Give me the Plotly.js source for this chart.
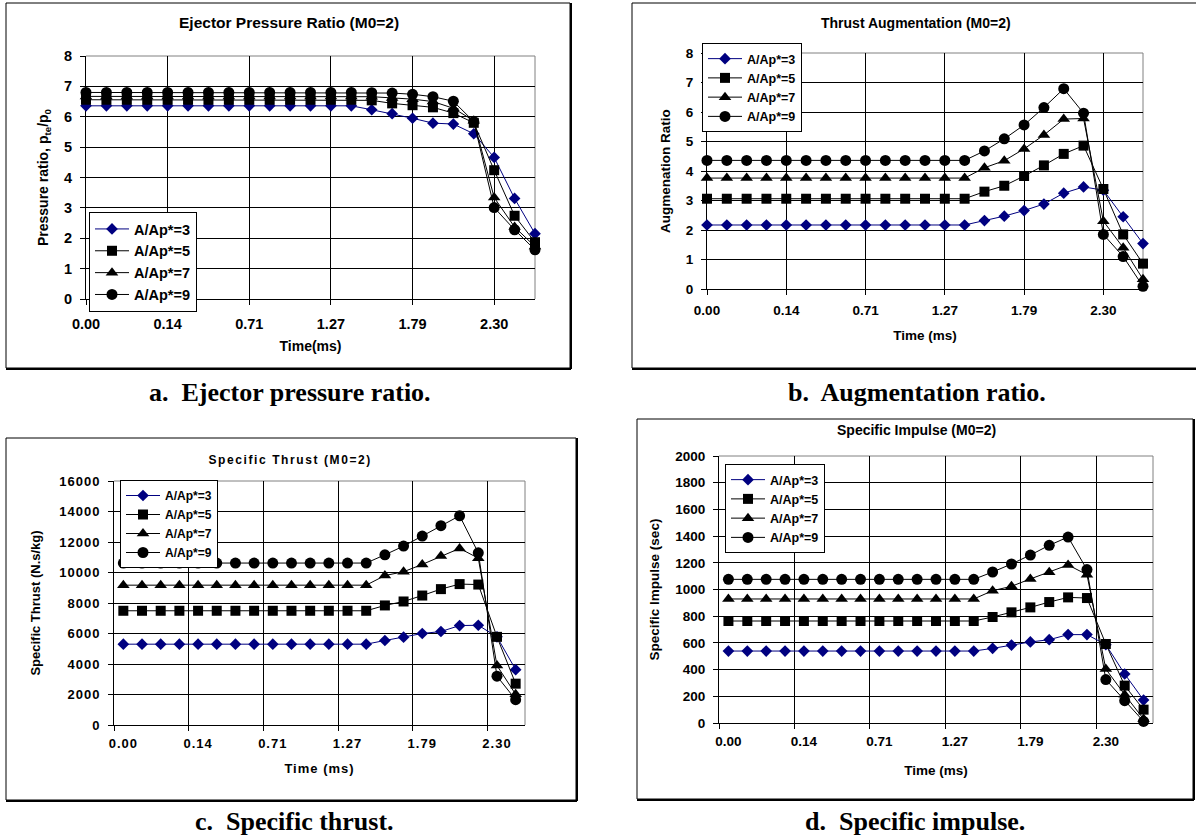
<!DOCTYPE html>
<html>
<head>
<meta charset="utf-8">
<script src="https://cdn.plot.ly/plotly-3.0.1.min.js"></script>
<style>
html, body { margin: 0; padding: 0; background: #ffffff; }
#chart { width: 1196px; height: 839px; }
</style>
</head>
<body>
<div id="chart"></div>
<script>
// ---------------- DATA ----------------
const step = [0, 1, 2, 3, 4, 5, 6, 7, 8, 9, 10, 11, 12, 13, 14, 15, 16, 17, 18, 19, 20, 21, 22];
const tickPos = [0, 4, 8, 12, 16, 20];
const tickText = ['0.00', '0.14', '0.71', '1.27', '1.79', '2.30'];
const seriesNames = ['A/Ap*=3', 'A/Ap*=5', 'A/Ap*=7', 'A/Ap*=9'];

// a. Ejector pressure ratio
const pressure3 = [6.36, 6.36, 6.36, 6.36, 6.36, 6.36, 6.36, 6.36, 6.36, 6.36, 6.36, 6.36, 6.36, 6.36, 6.23, 6.10, 5.95, 5.79, 5.76, 5.44, 4.66, 3.31, 2.15];
const pressure5 = [6.56, 6.56, 6.56, 6.56, 6.56, 6.56, 6.56, 6.56, 6.56, 6.56, 6.56, 6.56, 6.56, 6.56, 6.54, 6.44, 6.38, 6.31, 6.12, 5.80, 4.24, 2.74, 1.87];
const pressure7 = [6.67, 6.67, 6.67, 6.67, 6.67, 6.67, 6.67, 6.67, 6.67, 6.67, 6.67, 6.67, 6.67, 6.67, 6.66, 6.62, 6.58, 6.50, 6.28, 5.87, 3.34, 2.37, 1.73];
const pressure9 = [6.80, 6.80, 6.80, 6.80, 6.80, 6.80, 6.80, 6.80, 6.80, 6.80, 6.80, 6.80, 6.80, 6.80, 6.79, 6.78, 6.74, 6.66, 6.51, 5.84, 3.01, 2.28, 1.62];

// b. Augmentation ratio
const augment3 = [2.17, 2.17, 2.17, 2.17, 2.17, 2.17, 2.17, 2.17, 2.17, 2.17, 2.17, 2.17, 2.17, 2.17, 2.32, 2.47, 2.66, 2.88, 3.25, 3.46, 3.35, 2.45, 1.54];
const augment5 = [3.06, 3.06, 3.06, 3.06, 3.06, 3.06, 3.06, 3.06, 3.06, 3.06, 3.06, 3.06, 3.06, 3.06, 3.30, 3.50, 3.83, 4.19, 4.58, 4.86, 3.39, 1.85, 0.86];
const augment7 = [3.76, 3.76, 3.76, 3.76, 3.76, 3.76, 3.76, 3.76, 3.76, 3.76, 3.76, 3.76, 3.76, 3.76, 4.11, 4.35, 4.75, 5.22, 5.76, 5.78, 2.30, 1.40, 0.33];
const augment9 = [4.36, 4.36, 4.36, 4.36, 4.36, 4.36, 4.36, 4.36, 4.36, 4.36, 4.36, 4.36, 4.36, 4.36, 4.68, 5.09, 5.56, 6.15, 6.79, 5.96, 1.85, 1.10, 0.09];

// c. Specific thrust (22 points)
const thrust3 = [5300, 5300, 5300, 5300, 5300, 5300, 5300, 5300, 5300, 5300, 5300, 5300, 5300, 5300, 5540, 5760, 6000, 6130, 6520, 6540, 5780, 3630];
const thrust5 = [7490, 7490, 7490, 7490, 7490, 7490, 7490, 7490, 7490, 7490, 7490, 7490, 7490, 7490, 7840, 8100, 8490, 8910, 9240, 9210, 5780, 2710];
const thrust7 = [9170, 9170, 9170, 9170, 9170, 9170, 9170, 9170, 9170, 9170, 9170, 9170, 9170, 9170, 9800, 10050, 10530, 11080, 11580, 10940, 3900, 2010];
const thrust9 = [10620, 10620, 10620, 10620, 10620, 10620, 10620, 10620, 10620, 10620, 10620, 10620, 10620, 10620, 11160, 11730, 12390, 13070, 13720, 11290, 3200, 1660];

// d. Specific impulse
const impulse3 = [539, 539, 539, 539, 539, 539, 539, 539, 539, 539, 539, 539, 539, 539, 559, 584, 607, 624, 662, 662, 587, 367, 172];
const impulse5 = [764, 764, 764, 764, 764, 764, 764, 764, 764, 764, 764, 764, 764, 764, 794, 829, 866, 906, 941, 936, 592, 280, 100];
const impulse7 = [929, 929, 929, 929, 929, 929, 929, 929, 929, 929, 929, 929, 929, 929, 991, 1024, 1079, 1129, 1184, 1111, 404, 212, 30];
const impulse9 = [1076, 1076, 1076, 1076, 1076, 1076, 1076, 1076, 1076, 1076, 1076, 1076, 1076, 1076, 1131, 1191, 1258, 1331, 1393, 1149, 325, 167, 12];

// ---------------- STYLE / LAYOUT ----------------
const W = 1196, H = 839;
const SANS = 'Liberation Sans, Arial, sans-serif';
const SERIF = 'Liberation Serif, Times New Roman, serif';
const markerStyles = [
  { symbol: 'diamond', color: '#000080', size: 9 },
  { symbol: 'square', color: '#000000', size: 10 },
  { symbol: 'triangle-up', color: '#000000', size: 11 },
  { symbol: 'circle', color: '#000000', size: 11 }
];

const panels = [
  { xa: 'x', ya: 'y', leg: 'legend', box: [86, 56, 535, 299], xRange: [0, 22], yRange: [0, 8], dtick: 1,
    series: [pressure3, pressure5, pressure7, pressure9], between: false,
    title: 'Ejector Pressure Ratio (M0=2)', titlePos: [289, 23], titleSize: 15.5,
    xTitle: 'Time(ms)', yTitle: 'Pressure ratio, p<sub>te</sub>/p<sub>0</sub>',
    legPos: [89, 212], fs: 14.5, titleFs: 14, legFs: 14.5, legGap: 1, xStand: 7, xTitleStand: 9, yTitleStand: 12,
    frame: [6, 3, 570, 368], caption: 'a.\u00a0 Ejector pressure ratio.', capPos: [290, 392] },
  { xa: 'x2', ya: 'y2', leg: 'legend2', box: [707, 53, 1143, 289], xRange: [0, 22], yRange: [0, 8], dtick: 1,
    series: [augment3, augment5, augment7, augment9], between: false,
    title: 'Thrust Augmentation (M0=2)', titlePos: [916, 23], titleSize: 14,
    xTitle: 'Time (ms)', yTitle: 'Augmenation Ratio',
    legPos: [702, 43], fs: 13.5, titleFs: 13.5, legFs: 12.5, legGap: 3, xStand: 4, xTitleStand: 13, yTitleStand: 12,
    frame: [632, 3, 1200, 368], caption: 'b.\u00a0 Augmentation ratio.', capPos: [917, 392] },
  { xa: 'x3', ya: 'y3', leg: 'legend3', box: [114, 481, 525, 725], xRange: [-0.5, 21.5], yRange: [0, 16000], dtick: 2000,
    series: [thrust3, thrust5, thrust7, thrust9], between: true,
    title: 'Specific Thrust (M0=2)', titlePos: [290, 460], titleSize: 12,
    xTitle: 'Time (ms)', yTitle: 'Specific Thrust (N.s/kg)',
    legPos: [120, 480], fs: 13, titleFs: 13, legFs: 12, legGap: 0, xStand: 6, xTitleStand: 14, yTitleStand: 20,
    frame: [6, 438, 576, 800], caption: 'c.\u00a0 Specific thrust.', capPos: [294, 821] },
  { xa: 'x4', ya: 'y4', leg: 'legend4', box: [719, 456, 1153, 723], xRange: [-0.5, 22.5], yRange: [0, 2000], dtick: 200,
    series: [impulse3, impulse5, impulse7, impulse9], between: true,
    title: 'Specific Impulse (M0=2)', titlePos: [916, 430], titleSize: 14,
    xTitle: 'Time (ms)', yTitle: 'Specific Impulse (sec)',
    legPos: [725, 464], fs: 13.5, titleFs: 13.5, legFs: 12.5, legGap: 3, xStand: 6, xTitleStand: 17, yTitleStand: 12,
    frame: [637, 419, 1193, 799], caption: 'd.\u00a0 Specific impulse.', capPos: [915, 821] }
];

const px = v => v / W;
const py = v => 1 - v / H;

const traces = [];
const layout = {
  width: W, height: H,
  margin: { l: 0, r: 0, t: 0, b: 0 },
  paper_bgcolor: '#ffffff',
  plot_bgcolor: 'rgba(0,0,0,0)',
  font: { family: SANS, color: '#000000' },
  shapes: [],
  annotations: []
};

panels.forEach((p, pi) => {
  const n = p.series[0].length;
  const xs = step.slice(0, n);
  p.series.forEach((ys, si) => {
    const ms = markerStyles[si];
    traces.push({
      type: 'scatter', mode: 'lines+markers',
      x: xs, y: ys,
      xaxis: p.xa, yaxis: p.ya, legend: p.leg,
      legendgroup: p.leg + '_' + si,
      name: seriesNames[si],
      line: { color: ms.color, width: 1 },
      marker: { symbol: ms.symbol, color: ms.color, size: ms.size, line: { width: 0 } },
      cliponaxis: false
    });
  });

  const xKey = 'xaxis' + (pi === 0 ? '' : (pi + 1));
  const yKey = 'yaxis' + (pi === 0 ? '' : (pi + 1));
  const [bx0, by0, bx1, by1] = p.box;
  const tickFont = { family: SANS, size: p.fs, color: '#000', weight: 'bold' };
  const titleFont = { family: SANS, size: p.titleFs, color: '#000', weight: 'bold' };
  const xa = {
    domain: [px(bx0), px(bx1)], anchor: p.ya,
    range: p.xRange, tickmode: 'array', tickvals: tickPos, ticktext: tickText,
    showline: true, linecolor: '#000', linewidth: 1, zeroline: false,
    tickfont: tickFont, ticklabelstandoff: p.xStand,
    title: { text: p.xTitle, font: titleFont, standoff: p.xTitleStand },
    layer: 'below traces', fixedrange: true
  };
  if (p.between) {
    const boundaries = tickPos.map(t => t - 0.5);
    Object.assign(xa, {
      showgrid: false, ticks: '',
      minor: { tickmode: 'array', tickvals: boundaries, showgrid: true, gridcolor: '#000', gridwidth: 1,
               ticks: 'outside', ticklen: 5, tickcolor: '#000', tickwidth: 1 }
    });
  } else {
    Object.assign(xa, { showgrid: true, gridcolor: '#000', gridwidth: 1, ticks: 'outside', ticklen: 5, tickcolor: '#000' });
  }
  layout[xKey] = xa;
  layout[yKey] = {
    domain: [py(by1), py(by0)], anchor: p.xa,
    range: p.yRange, tickmode: 'linear', tick0: 0, dtick: p.dtick, tickformat: 'd',
    showgrid: true, gridcolor: '#000', gridwidth: 1,
    showline: true, linecolor: '#000', linewidth: 1, zeroline: false,
    ticks: 'outside', ticklen: 5, tickcolor: '#000',
    tickfont: tickFont, ticklabelstandoff: 5,
    title: { text: p.yTitle, font: titleFont, standoff: p.yTitleStand },
    layer: 'below traces', fixedrange: true
  };

  // legend
  layout[p.leg] = {
    x: px(p.legPos[0]), y: py(p.legPos[1]), xanchor: 'left', yanchor: 'top',
    xref: 'paper', yref: 'paper',
    bgcolor: '#ffffff', bordercolor: '#000000', borderwidth: 1,
    font: { family: SANS, size: p.legFs, color: '#000', weight: 'bold' },
    tracegroupgap: p.legGap, itemwidth: 34, traceorder: 'normal'
  };

  // gray plot-area border (top & right)
  const xd = p.xa + ' domain', yd = p.ya + ' domain';
  layout.shapes.push({ type: 'line', xref: xd, yref: yd, x0: 0, x1: 1, y0: 1, y1: 1, line: { color: '#808080', width: 1 }, layer: 'below' });
  layout.shapes.push({ type: 'line', xref: xd, yref: yd, x0: 1, x1: 1, y0: 0, y1: 1, line: { color: '#808080', width: 1 }, layer: 'below' });

  // outer frame with shadow edge
  const [fx0, fy0, fx1, fy1] = p.frame;
  layout.shapes.push({ type: 'rect', xref: 'paper', yref: 'paper', x0: px(fx0), x1: px(fx1), y0: py(fy1), y1: py(fy0), line: { color: '#000', width: 1 }, layer: 'above' });
  layout.shapes.push({ type: 'line', xref: 'paper', yref: 'paper', x0: px(fx0), x1: px(fx1 + 1), y0: py(fy1 + 1), y1: py(fy1 + 1), line: { color: '#000', width: 2 }, layer: 'above' });
  layout.shapes.push({ type: 'line', xref: 'paper', yref: 'paper', x0: px(fx1 + 1), x1: px(fx1 + 1), y0: py(fy1 + 1), y1: py(fy0), line: { color: '#000', width: 2 }, layer: 'above' });

  // chart title
  layout.annotations.push({
    text: p.title, xref: 'paper', yref: 'paper', x: px(p.titlePos[0]), y: py(p.titlePos[1]),
    xanchor: 'center', yanchor: 'middle', showarrow: false,
    font: { family: SANS, size: p.titleSize, color: '#000', weight: 'bold' }
  });
  // caption
  layout.annotations.push({
    text: p.caption, xref: 'paper', yref: 'paper', x: px(p.capPos[0]), y: py(p.capPos[1]),
    xanchor: 'center', yanchor: 'middle', showarrow: false,
    font: { family: SERIF, size: 26, color: '#000', weight: 'bold' }
  });
});

Plotly.newPlot('chart', traces, layout, { displayModeBar: false, staticPlot: true }).then(gd => {
  // Panel c text in the reference is letter-spaced
  const spaced = gd.querySelectorAll('.x3tick text, .y3tick text, .x3title, .legend3 .legendtext');
  spaced.forEach(t => { t.style.letterSpacing = '1px'; });
  const ttl = gd.querySelector('.annotation[data-index="4"] .annotation-text');
  if (ttl) ttl.style.letterSpacing = '1.6px';
});
</script>
</body>
</html>
